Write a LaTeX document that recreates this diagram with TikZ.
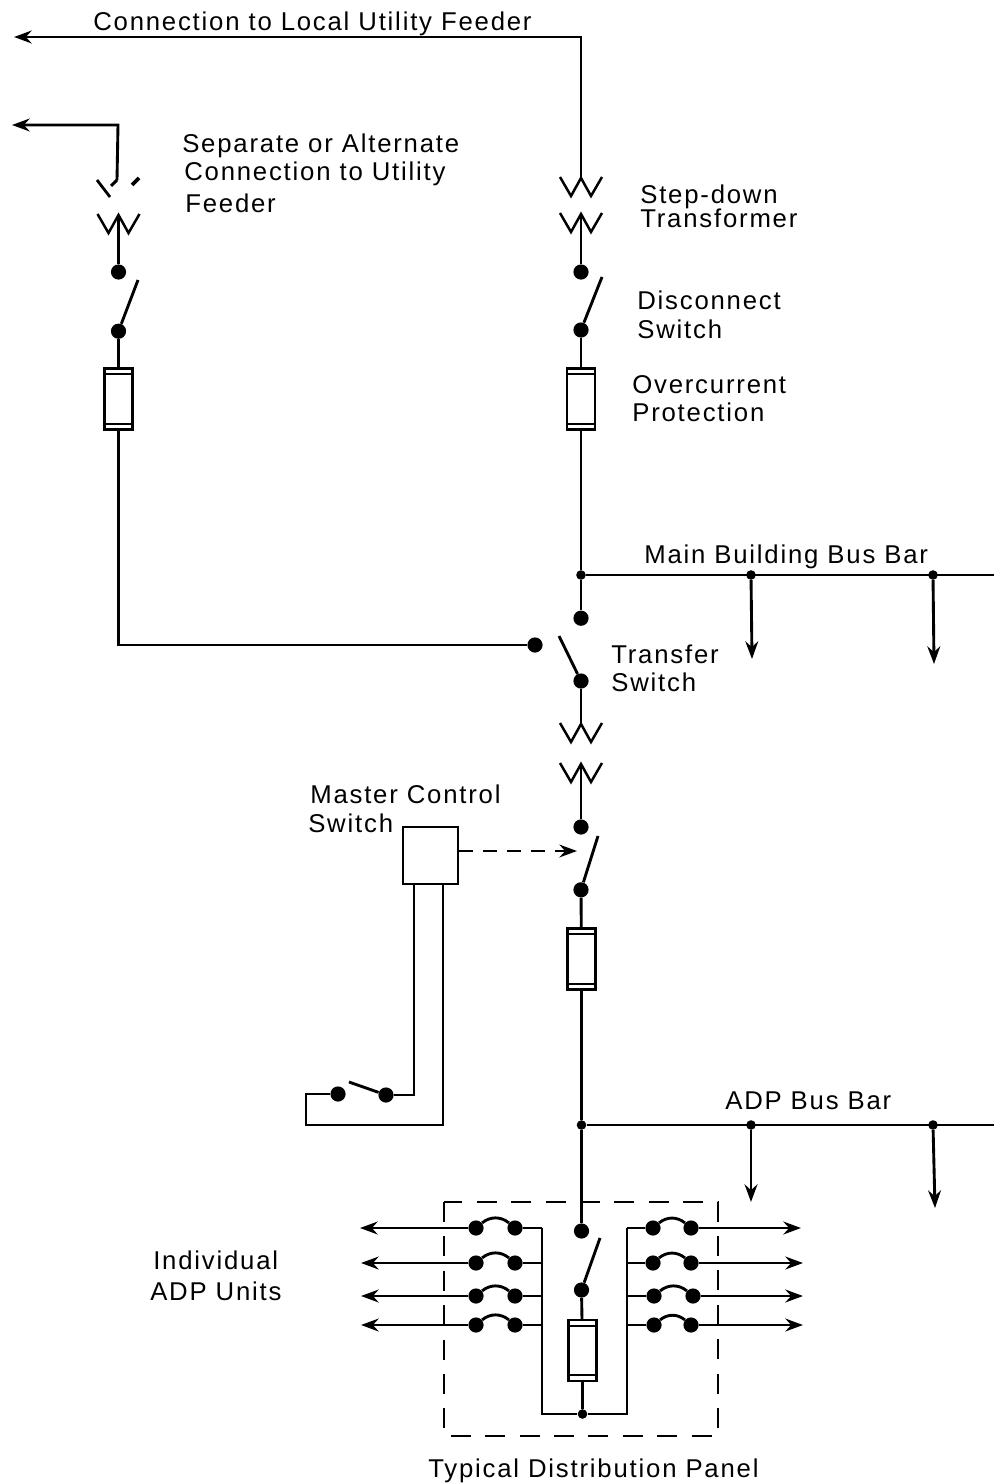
\documentclass[tikz,border=0pt]{standalone}
\usepackage{fontspec}
\setmainfont[LetterSpace=7]{Liberation Sans}
\usetikzlibrary{%
  arrows.meta,%
  positioning,% for " of "
  calc%
}
\tikzset{
  wire/.style={line width=0.72mm},
  feed/.style={wire,-{Stealth[length=4.4mm,width=3.2mm]}},
  contact/.style={circle,fill=black,inner sep=0pt,minimum size=3.8mm},
  junction/.style={circle,fill=black,inner sep=0pt,minimum size=2.4mm},
  fuse/.style={draw,line width=0.6mm,fill=white,inner sep=0pt,minimum width=7mm,minimum height=15.2mm,
    path picture={
      \draw[line width=0.5mm] ($(path picture bounding box.north west)+(0,-1.4mm)$) -- ($(path picture bounding box.north east)+(0,-1.4mm)$);
      \draw[line width=0.5mm] ($(path picture bounding box.south west)+(0,1.4mm)$) -- ($(path picture bounding box.south east)+(0,1.4mm)$);
    }},
  lbl/.style={anchor=west,inner sep=0pt,text height=4.6mm,text depth=0pt,font=\fontsize{18.3}{20}\selectfont}
}
% one winding of a transformer: name, x, y of the top
\newcommand{\winding}[3]{%
  \draw[line width=0.62mm] (#2-21,#3) -- (#2-10,#3+19) -- (#2,#3+1) -- (#2+10,#3+19) -- (#2+21,#3);
  \coordinate (#1) at (#2,#3+1);
}
\begin{document}
\begin{tikzpicture}[x=0.25mm,y=-0.25mm,on grid]
    \useasboundingbox (0,0) rectangle (994,1484);

    %right column, top to bottom
    \coordinate (feed_a) at (14,37);
    \coordinate (feed_c) at (581,37);
    \winding{tr_1a}{581}{177}
    \winding{tr_1b}{581}{213}
    \node[contact] (sw_1a) at (581,272) {};
    \node[contact] (sw_1b) [below =14.5mm of sw_1a] {};
    \coordinate (bl_1) at (602,277);
    \node[fuse] (fu_1) at (581,399) {};
    \node[junction] (bus_1) at (581,575) {};
    \node[contact] (tf_a) [below =10.8mm of bus_1] {};
    \node[contact] (tf_b) at (535,645) {};
    \node[contact] (tf_c) at (581,681) {};
    \coordinate (bl_t) at (559,636);

    %main bus bar
    \coordinate (bus_1e) at (994,575);
    \node[junction] (bus_1a) at (751,575) {};
    \node[junction] (bus_1b) at (933,575) {};
    \coordinate (dr_1a) at (752,659);
    \coordinate (dr_1b) at (934,664);

    %left column
    \coordinate (alt_a) at (12,125);
    \coordinate (alt_c) at (118,125);
    \coordinate (alt_d) at (117,180);
    \coordinate (alt_e) at (111,186);
    \coordinate (brk_a) at (97,180);
    \coordinate (brk_b) at (110,197);
    \coordinate (brk_c) at (132,185);
    \coordinate (brk_d) at (139,178);
    \winding{tr_0}{118.5}{214}
    \node[contact] (sw_0a) at (118.5,272) {};
    \node[contact] (sw_0b) [below =14.8mm of sw_0a] {};
    \coordinate (bl_0) at (138,280);
    \node[fuse] (fu_0) at (118.5,399) {};
    \coordinate (alt_f) at (118.5,645);

    %lower transformer and switch
    \winding{tr_2a}{581}{723}
    \winding{tr_2b}{581}{763}
    \node[contact] (sw_2a) at (581,827) {};
    \node[contact] (sw_2b) [below =15.7mm of sw_2a] {};
    \coordinate (bl_2) at (598,836);
    \node[fuse] (fu_2) at (581.5,959) {};

    %master control
    \node[draw,line width=0.6mm,inner sep=0pt,minimum width=13.75mm,minimum height=14.25mm] (mst) at (430.5,855.5) {};
    \coordinate (mst_r) at (577,851);
    \coordinate (mst_l) at (414,1095);
    \coordinate (mst_k) at (443,1125);
    \coordinate (mst_j) at (306,1125);
    \coordinate (mst_i) at (306,1094);
    \node[contact] (ms_b) at (386,1095) {};
    \node[contact] (ms_a) at (338,1094) {};
    \coordinate (bl_m) at (349,1082);

    %adp bus bar
    \node[junction] (bus_2) at (581.5,1125) {};
    \coordinate (bus_2e) at (994,1125);
    \node[junction] (bus_2a) at (751,1125) {};
    \node[junction] (bus_2b) at (933,1125) {};
    \coordinate (dr_2a) at (751,1202);
    \coordinate (dr_2b) at (935,1208);

    %panel, switch and fuse
    \node[contact] (sw_3a) at (581.5,1231) {};
    \node[contact] (sw_3b) [below =14.75mm of sw_3a] {};
    \coordinate (bl_3) at (600,1238);
    \node[fuse] (fu_3) at (582.5,1350.5) {};
    \node[junction] (pn_m) at (582.5,1414) {};
    \coordinate (pn_l) at (542,1414);
    \coordinate (pn_r) at (627,1414);

    %panel, left rows
    \coordinate (ll_1) at (542,1228);
    \coordinate (ll_2) at (542,1263);
    \coordinate (ll_3) at (542,1296);
    \coordinate (ll_4) at (542,1325);
    \node[contact] (lb_1) at (515,1228) {};
    \node[contact] (lb_2) at (515,1263) {};
    \node[contact] (lb_3) at (515,1296) {};
    \node[contact] (lb_4) at (515,1325) {};
    \node[contact] (la_1) at (476,1228) {};
    \node[contact] (la_2) at (476,1263) {};
    \node[contact] (la_3) at (476,1296) {};
    \node[contact] (la_4) at (476,1325) {};
    \coordinate (lt_1) at (360,1228);
    \coordinate (lt_2) at (361,1263);
    \coordinate (lt_3) at (361,1296);
    \coordinate (lt_4) at (361,1325);

    %panel, right rows
    \coordinate (rl_1) at (627,1228);
    \coordinate (rl_2) at (627,1263);
    \coordinate (rl_3) at (627,1296);
    \coordinate (rl_4) at (627,1325);
    \node[contact] (ra_1) at (653,1228) {};
    \node[contact] (ra_2) at (653,1263) {};
    \node[contact] (ra_3) at (654,1296) {};
    \node[contact] (ra_4) at (654,1325) {};
    \node[contact] (rb_1) at (691,1228) {};
    \node[contact] (rb_2) at (691,1263) {};
    \node[contact] (rb_3) at (693,1296) {};
    \node[contact] (rb_4) at (691,1325) {};
    \coordinate (rt_1) at (801,1228);
    \coordinate (rt_2) at (803,1263);
    \coordinate (rt_3) at (803,1296);
    \coordinate (rt_4) at (803,1325);

    %panel outline
    \coordinate (bx_a) at (444,1202);
    \coordinate (bx_b) at (718,1436);

    %feeders
    \draw[feed] (tr_1a) -- (feed_c) -- (feed_a);
    \draw[feed] (alt_d) -- (alt_c) -- (alt_a);
    \draw[wire] (alt_e) -- (alt_d);
    \draw[line width=0.7mm] (brk_a) -- (brk_b);
    \draw[line width=0.9mm] (brk_c) -- (brk_d);

    %switches and fuses
    \draw[wire] (tr_1b) -- (sw_1a);
    \draw[wire] (sw_1b) -- (bl_1);
    \draw[wire] (sw_1b) -- (fu_1);
    \draw[wire] (fu_1) -- (bus_1);
    \draw[wire] (bus_1) -- (tf_a);
    \draw[wire] (tf_b) -- (alt_f) -- (fu_0);
    \draw[wire] (tf_c) -- (bl_t);
    \draw[wire] (tf_c) -- (tr_2a);
    \draw[wire] (tr_0) -- (sw_0a);
    \draw[wire] (sw_0b) -- (bl_0);
    \draw[wire] (sw_0b) -- (fu_0);
    \draw[wire] (tr_2b) -- (sw_2a);
    \draw[wire] (sw_2b) -- (bl_2);
    \draw[wire] (sw_2b) -- (fu_2);
    \draw[wire] (fu_2) -- (bus_2);
    \draw[wire] (bus_2) -- (sw_3a);
    \draw[wire] (sw_3b) -- (bl_3);
    \draw[wire] (sw_3b) -- (fu_3);
    \draw[wire] (fu_3) -- (pn_m);

    %bus bars
    \draw[wire] (bus_1) -- (bus_1e);
    \draw[wire] (bus_2) -- (bus_2e);
    \draw[feed] (bus_1a) -- (dr_1a);
    \draw[feed] (bus_1b) -- (dr_1b);
    \draw[feed] (bus_2a) -- (dr_2a);
    \draw[feed] (bus_2b) -- (dr_2b);

    %master switch
    \draw[line width=0.5mm,dash pattern=on 3.4mm off 2.6mm,-{Stealth[length=4.4mm,width=3.2mm]}] (mst.east |- mst_r) -- (mst_r);
    \draw[wire] (mst.south -| mst_l) -- (mst_l) -- (ms_b);
    \draw[wire] (ms_b) -- (bl_m);
    \draw[wire] (ms_a) -- (mst_i) -- (mst_j) -- (mst_k) -- (mst.south -| mst_k);

    %panel bus
    \draw[wire] (ll_1) -- (pn_l) -- (pn_m) -- (pn_r) -- (rl_1);
    \path[wire]
    (lb_1) edge (ll_1)
    (lb_2) edge (ll_2)
    (lb_3) edge (ll_3)
    (lb_4) edge (ll_4)
    (rl_1) edge (ra_1)
    (rl_2) edge (ra_2)
    (rl_3) edge (ra_3)
    (rl_4) edge (ra_4);

    %fused links
    \path[wire]
    (la_1) edge[bend left=40] (lb_1)
    (la_2) edge[bend left=40] (lb_2)
    (la_3) edge[bend left=40] (lb_3)
    (la_4) edge[bend left=40] (lb_4)
    (ra_1) edge[bend left=40] (rb_1)
    (ra_2) edge[bend left=40] (rb_2)
    (ra_3) edge[bend left=40] (rb_3)
    (ra_4) edge[bend left=40] (rb_4);

    %outgoing units
    \path[feed]
    (la_1) edge (lt_1)
    (la_2) edge (lt_2)
    (la_3) edge (lt_3)
    (la_4) edge (lt_4)
    (rb_1) edge (rt_1)
    (rb_2) edge (rt_2)
    (rb_3) edge (rt_3)
    (rb_4) edge (rt_4);

    \draw[line width=0.6mm,dash pattern=on 5mm off 3.6mm] (bx_a) rectangle (bx_b);

    %labels
    \node[lbl] (t_feed) at (93,21) {Connection to Local Utility Feeder};
    \node[lbl] (t_alt1) at (182,143) {Separate or Alternate};
    \node[lbl] (t_alt2) at (184,171) {Connection to Utility};
    \node[lbl] (t_alt3) at (185,203) {Feeder};
    \node[lbl] (t_tr1) at (640,194) {Step-down};
    \node[lbl] (t_tr2) at (640,218) {Transformer};
    \node[lbl] (t_sw1) at (637,300) {Disconnect};
    \node[lbl] (t_sw2) at (637,329) {Switch};
    \node[lbl] (t_oc1) at (632,384) {Overcurrent};
    \node[lbl] (t_oc2) at (632,412) {Protection};
    \node[lbl] (t_bus1) at (644,554) {Main Building Bus Bar};
    \node[lbl] (t_tf1) at (611,654) {Transfer};
    \node[lbl] (t_tf2) at (611,682) {Switch};
    \node[lbl] (t_ms1) at (310,794) {Master Control};
    \node[lbl] (t_ms2) at (308,823) {Switch};
    \node[lbl] (t_bus2) at (725,1100) {ADP Bus Bar};
    \node[lbl] (t_un1) at (153,1260) {Individual};
    \node[lbl] (t_un2) at (150,1291) {ADP Units};
    \node[lbl] (t_pn) at (428,1468) {Typical Distribution Panel};
\end{tikzpicture}
\end{document}
